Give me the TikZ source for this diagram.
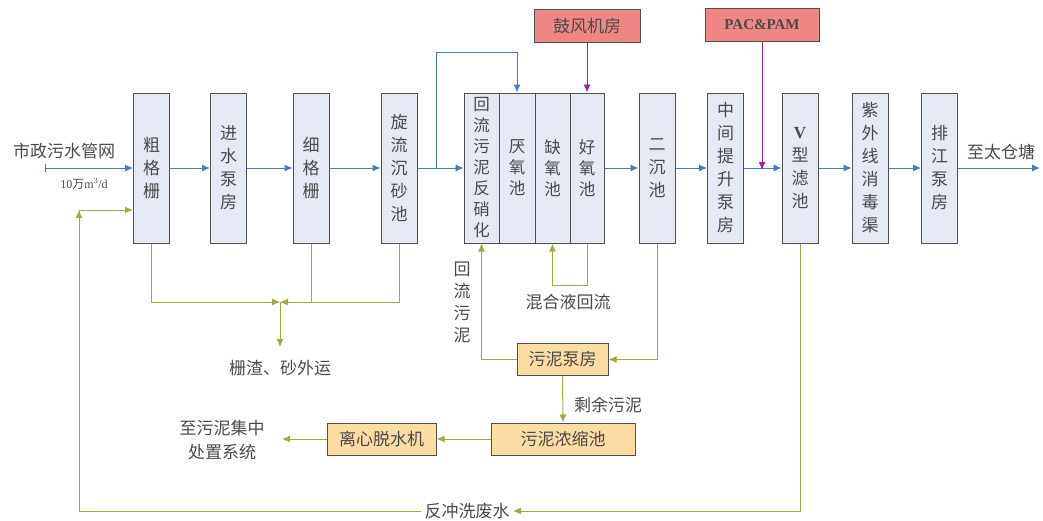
\documentclass[tikz,border=0pt]{standalone}
\usepackage{fontspec}
\setmainfont{Liberation Serif}
\newfontfamily\cjk{Noto Sans CJK SC}
\usetikzlibrary{arrows.meta,positioning}
\definecolor{boxfill}{HTML}{E4E9F4}
\definecolor{boxdraw}{HTML}{505050}
\definecolor{flowblue}{HTML}{4A7CC0}
\definecolor{olive2}{HTML}{A3A840}
\definecolor{redfill}{HTML}{F08585}
\definecolor{orgfill}{HTML}{FBDDA3}
\definecolor{purp}{HTML}{A0209A}
\definecolor{txt}{HTML}{4A4A4A}
\tikzset{
  every node/.style={text=txt,font=\cjk\fontsize{17}{21}\selectfont},
  proc/.style={draw=boxdraw,line width=1pt,fill=boxfill,minimum width=36pt,minimum height=150pt,inner sep=0pt,align=center,font=\cjk\fontsize{17}{23}\selectfont},
  comp/.style={proc,font=\cjk\fontsize{16.5}{21}\selectfont},
  sbox/.style={draw=boxdraw,line width=1pt,fill=orgfill,inner sep=0pt,minimum height=32pt},
  rbox/.style={draw=boxdraw,line width=1pt,fill=redfill,inner sep=0pt,minimum height=33pt},
  bflow/.style={draw=flowblue,line width=0.9pt,-{Latex[length=8pt,width=7pt]}},
  oflow/.style={draw=olive2,line width=1pt,-{Latex[length=8pt,width=7pt]}},
  oline/.style={draw=olive2,line width=1pt},
  pflow/.style={draw=purp,line width=0.9pt,-{Latex[length=8pt,width=7pt]}},
}
\begin{document}
\begin{tikzpicture}[x=1pt,y=-1pt]
\useasboundingbox (0,0) rectangle (1043,520);
% process boxes
\node[proc] (cg) at (151.5,168) {粗\\格\\栅};
\node[proc] (js) at (228.5,168) {进\\水\\泵\\房};
\node[proc] (xg) at (311,168) {细\\格\\栅};
\node[proc] (xl) at (399,168) {旋\\流\\沉\\砂\\池};
\node[comp,minimum width=35pt] (hl) at (481.5,168) {回\\流\\污\\泥\\反\\硝\\化};
\node[comp,minimum width=36pt] (ya) at (517,168) {厌\\氧\\池};
\node[comp,minimum width=35pt] (qy) at (552.5,168) {缺\\氧\\池};
\node[comp,minimum width=34pt] (hy) at (587,168) {好\\氧\\池};
\node[proc] (ec) at (657,168) {二\\沉\\池};
\node[proc] (zj) at (725.5,168) {中\\间\\提\\升\\泵\\房};
\node[proc] (vl) at (800,168) {{\fontspec{Liberation Serif}\bfseries V}\\型\\滤\\池};
\node[proc] (zw) at (870,168) {紫\\外\\线\\消\\毒\\渠};
\node[proc] (pj) at (939.5,168) {排\\江\\泵\\房};
% top red boxes
\node[rbox,minimum width=106pt] (gf) at (587,26) {鼓风机房};
\node[rbox,minimum width=114pt] (pac) at (762,25) {\fontspec{Liberation Serif}\bfseries\fontsize{15}{18}\selectfont PAC\&PAM};
% sludge boxes
\node[sbox,minimum width=91pt] (wb) at (562.5,359.5) {污泥泵房};
\node[sbox,minimum width=144pt] (ns) at (563,439) {污泥浓缩池};
\node[sbox,minimum width=109pt] (ts) at (381.5,439) {离心脱水机};
% labels
\node (src) at (64,151) {市政污水管网};
\node[font=\fontsize{12}{14}\selectfont] (q) at (84,184) {10{\cjk 万}m$^3$/d};
\node (dst) at (1001,152) {至太仓塘};
\node (zz) at (280,368) {栅渣、砂外运};
\node (hh) at (568,302) {混合液回流};
\node[align=center,font=\cjk\fontsize{17}{22}\selectfont] (hlw) at (462,302) {回\\流\\污\\泥};
\node (sy) at (608,405) {剩余污泥};
\node (fc) at (467,511) {反冲洗废水};
\node[align=center,font=\cjk\fontsize{17}{24}\selectfont] (cz) at (222,440) {至污泥集中\\处置系统};
% coordinates
\coordinate (in) at (45,168);
\coordinate (out) at (1040,168);
\coordinate (by) at (436,168);
\coordinate (pacp) at (762,168);
\coordinate (jn) at (280,302);
\coordinate (jd) at (280,347);
\coordinate (ml) at (587,285);
\coordinate (fcl) at (79,511);
\coordinate (fcc) at (79,210);
\coordinate (tsl) at (282,439);
% main flow
\draw[flowblue,line width=0.9pt] (45,164) -- (45,172);
\draw[bflow] (in) -- (cg.west);
\draw[bflow] (cg.east) -- (js.west);
\draw[bflow] (js.east) -- (xg.west);
\draw[bflow] (xg.east) -- (xl.west);
\draw[bflow] (xl.east) -- (hl.west);
\draw[bflow] (by) -- (436,52) -| (ya.north);
\draw[bflow] (hy.east) -- (ec.west);
\draw[bflow] (ec.east) -- (zj.west);
\draw[bflow] (zj.east) -- (vl.west);
\draw[bflow] (vl.east) -- (zw.west);
\draw[bflow] (zw.east) -- (pj.west);
\draw[bflow] (pj.east) -- (out);
% chemicals & air
\draw[pflow] (gf.south) -- (hy.north);
\draw[pflow] (pac.south) -- ([yshift=-2pt]pacp);
% screenings
\draw[oflow] (cg.south) |- (jn);
\draw[oflow] (xl.south) |- (jn);
\draw[oline] (xg.south) -- (xg.south |- jn);
\draw[oflow] (jn) -- (jd);
% sludge loops
\draw[oflow] (ec.south) |- (wb.east);
\draw[oflow] (wb.west) -| (hl.south);
\draw[oflow] (hy.south) -- (ml) -| (qy.south);
\draw[oflow] (wb.south) -- (ns.north);
\draw[oflow] (ns.west) -- (ts.east);
\draw[oflow] (ts.west) -- (tsl);
% backwash
\draw[oflow] (vl.south) |- (fc.east);
\draw[oflow] (fc.west) -- (fcl) -- (fcc);
\draw[oflow] (fcc) -- (cg.west |- fcc);
\end{tikzpicture}
\end{document}
